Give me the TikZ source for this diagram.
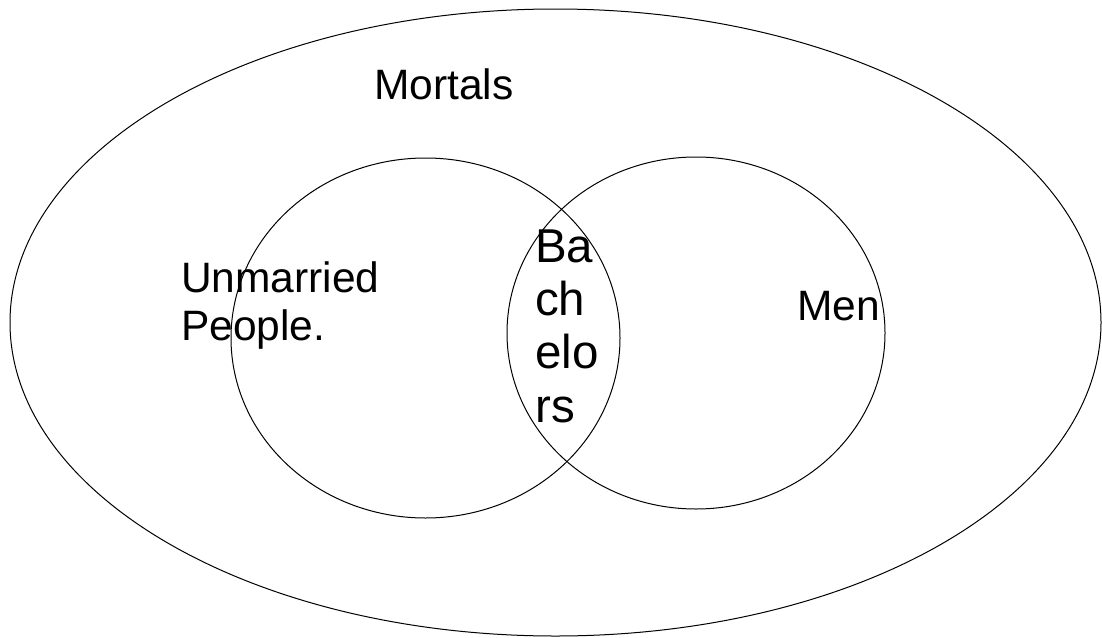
\documentclass[tikz,border=0pt]{standalone}
\usepackage{fontspec}
\setmainfont{Liberation Sans}
\usetikzlibrary{shapes.geometric, positioning}

\begin{document}
\begin{tikzpicture}[
    x=1pt, y=-1pt,
    set/.style={ellipse, draw, line width=1pt, inner sep=0pt},
    label/.style={inner sep=0pt, anchor=base west, align=left, font=\fontsize{42.5}{48}\selectfont},
]
    \useasboundingbox (0,0) rectangle (1102,637);
    \node[set, minimum width=1091pt, minimum height=627pt] (mortals) at (555.5,322.5) {};
    \node[set, minimum width=389pt, minimum height=360pt] (unmarried) at (425.5,338) {};
    \node[set, minimum width=378pt, minimum height=352pt] (men) at (696,333) {};

    % multi-line labels sit on the baseline of their last line
    \node[label] (mortalstxt) at (374,99) {Mortals};
    \node[label] (unmarriedtxt) at (181,340) {Unmarried\\People.};
    \node[label] (mentxt) at (797,320) {Men};
    \node[label, font=\fontsize{47.5}{53.3}\selectfont] (bachelorstxt) at (535,422) {Ba\\ch\\elo\\rs};
\end{tikzpicture}
\end{document}
